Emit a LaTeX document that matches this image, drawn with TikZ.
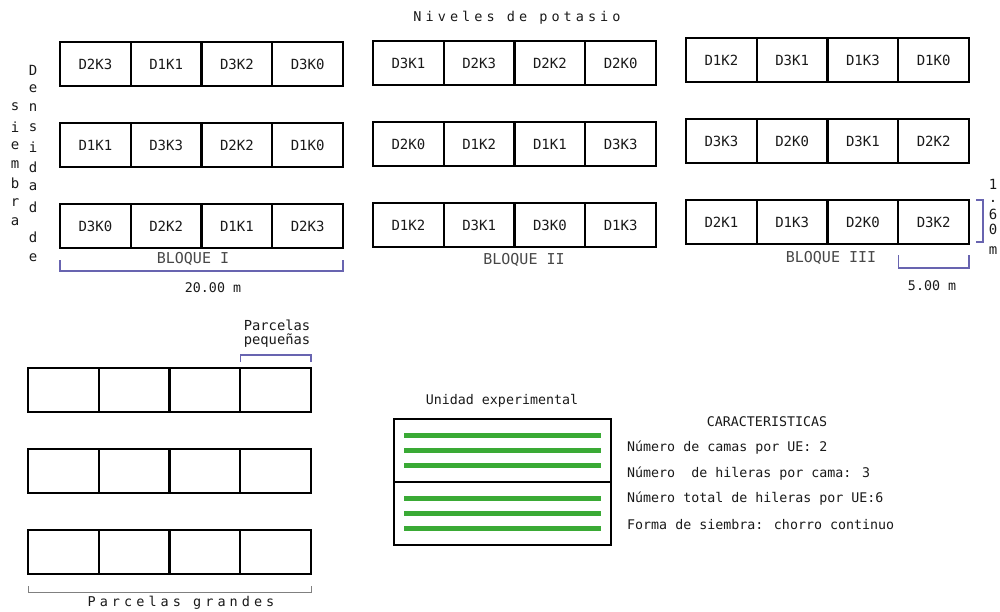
\documentclass[tikz,border=0pt]{standalone}
\usepackage{fontspec}
\setmainfont{DejaVu Sans Mono}
\newfontfamily\espaciada[LetterSpace=30]{DejaVu Sans Mono}
\usepackage{tikz}
\usetikzlibrary{calc}
\definecolor{cotablue}{RGB}{104,100,176}
\definecolor{surcogreen}{RGB}{58,170,53}
\definecolor{tinta}{RGB}{25,25,25}

% una fila de cuatro parcelas pequenas
\newcommand{\fila}[7]{%
  \node[celda] (#1a) at (#2,#3) {#4};
  \node[celda] (#1b) at (#1a.north east) {#5};
  \node[celda] (#1c) at (#1b.north east) {#6};
  \node[celda] (#1d) at (#1c.north east) {#7};}

\begin{document}
\begin{tikzpicture}[x=1pt,y=-1pt,
  celda/.style={draw=black,line width=2.2pt,minimum width=70.75pt,minimum height=44pt,
    anchor=north west,inner sep=0pt,outer sep=0pt,text=tinta,font=\fontsize{14}{16}\selectfont},
  cama/.style={draw=black,line width=2pt,minimum width=217pt,minimum height=63pt,
    anchor=north west,inner sep=0pt,outer sep=0pt},
  surco/.style={draw=surcogreen,line width=4.5pt},
  cota/.style={draw=cotablue,line width=1.1pt},
  texto/.style={inner sep=0pt,text=tinta,font=\fontsize{13.3}{16}\selectfont},
  letra/.style={inner sep=0pt,text=tinta,font=\fontsize{14}{16}\selectfont}]
\useasboundingbox (0,0) rectangle (1000,611);

\node[texto,font=\fontsize{13.5}{16}\espaciada] (titulo) at (517,18) {Niveles de potasio};

% bloque I
\fila{b1f1}{60}{42}{D2K3}{D1K1}{D3K2}{D3K0}
\fila{b1f2}{60}{123}{D1K1}{D3K3}{D2K2}{D1K0}
\fila{b1f3}{60}{204}{D3K0}{D2K2}{D1K1}{D2K3}
% bloque II
\fila{b2f1}{373}{41}{D3K1}{D2K3}{D2K2}{D2K0}
\fila{b2f2}{373}{122}{D2K0}{D1K2}{D1K1}{D3K3}
\fila{b2f3}{373}{203}{D1K2}{D3K1}{D3K0}{D1K3}
% bloque III
\fila{b3f1}{686}{38}{D1K2}{D3K1}{D1K3}{D1K0}
\fila{b3f2}{686}{119}{D3K3}{D2K0}{D3K1}{D2K2}
\fila{b3f3}{686}{200}{D2K1}{D1K3}{D2K0}{D3K2}

\node[letra,text=tinta!80,font=\fontsize{15}{16}\selectfont] (bloque1) at (193,259) {BLOQUE I};
\node[letra,text=tinta!80,font=\fontsize{15}{16}\selectfont] (bloque2) at (524,260) {BLOQUE II};
\node[letra,text=tinta!80,font=\fontsize{15}{16}\selectfont] (bloque3) at (831,258) {BLOQUE III};

% cotas
\draw[cota] ($(b1f3a.south west)+(0,12)$) -- ++(0,11) -| ($(b1f3d.south east)+(0,12)$);
\node[texto] (largo) at (213,288) {20.00 m};
\draw[cota] ($(b3f3d.south west)+(0,11)$) -- ++(0,13) -| ($(b3f3d.south east)+(0,11)$);
\node[texto] (ancho) at (932,286) {5.00 m};
\draw[cota] ($(b3f3d.north east)+(7,0)$) -- ++(7,0) |- ($(b3f3d.south east)+(7,-2)$);
\foreach \l/\y in {1/184,./201,6/214,0/229,m/251}
  \node[letra] (alto\y) at (993,\y) {\l};

% densidad de siembra
\foreach \l/\y in {D/70,e/89,n/108,s/128,i/147,d/167,a/187,d/207,d/237,e/258}
  \node[letra] (dens\y) at (33,\y) {\l};
\foreach \l/\y in {s/107,i/127,e/146,m/165,b/183,r/203,a/222}
  \node[letra] (siem\y) at (15,\y) {\l};

% parcelas grandes y pequenas
\fila{p1}{28}{368}{}{}{}{}
\fila{p2}{28}{449}{}{}{}{}
\fila{p3}{28}{530}{}{}{}{}
\draw[cota] ($(p1d.north west)+(0,-6)$) -- ++(0,-7) -| ($(p1d.north east)+(0,-6)$);
\node[texto,align=center,font=\fontsize{13.8}{14}\selectfont] (pequenas) at (277,334) {Parcelas\\pequeñas};
\draw[draw=gray,line width=1pt] ($(p3a.south west)+(0,12)$) -- ++(0,6) -| ($(p3d.south east)+(0,12)$);
\node[texto,font=\fontsize{13.5}{16}\espaciada] (grandes) at (181,603) {Parcelas grandes};

% unidad experimental
\node[texto] (uetitulo) at (502,401) {Unidad experimental};
\node[cama] (cama1) at (394,419) {};
\node[cama] (cama2) at (cama1.south west) {};
\foreach \c in {cama1,cama2}
  \foreach \d in {-15,0,15}
    \draw[surco] ($(\c.west)+(10,\d)$) -- ($(\c.east)+(-10,\d)$);

\node[texto] (carac) at (767,422) {CARACTERISTICAS};
\node[texto,anchor=west] (carac1) at (627,448) {Número de camas por UE: 2};
\node[texto,anchor=west] (carac2) at (627,474) {Número\ \ de hileras por cama: 3};
\node[texto,anchor=west] (carac3) at (627,499) {Número total de hileras por UE:6};
\node[texto,anchor=west] (carac4) at (627,525) {Forma de siembra: chorro continuo};
\end{tikzpicture}
\end{document}
